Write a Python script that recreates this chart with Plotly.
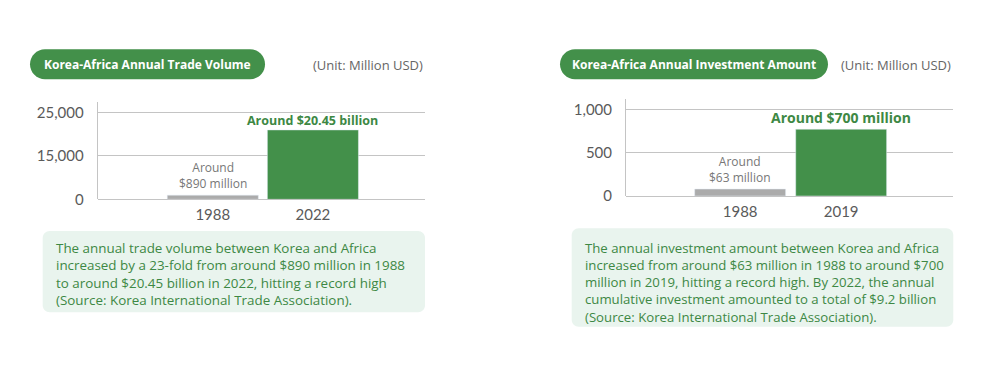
import plotly.graph_objects as go

# ---------------- data ----------------
trade_years = ["1988", "2022"]
trade_values = [1200, 20000]          # Million USD (as drawn)
trade_tick_vals = [0, 12500, 25000]
trade_tick_text = ["0", "15,000", "25,000"]

invest_years = ["1988", "2019"]
invest_values = [80, 770]             # Million USD (as drawn)
invest_tick_vals = [0, 500, 1000]
invest_tick_text = ["0", "500", "1,000"]

trade_title = "Korea-Africa Annual Trade Volume"
invest_title = "Korea-Africa Annual Investment Amount"
unit_text = "(Unit: Million USD)"

trade_bar_labels = [["Around", "$890 million"], ["Around $20.45 billion"]]
invest_bar_labels = [["Around", "$63 million"], ["Around $700 million"]]

trade_note = [
    "The annual trade volume between Korea and Africa",
    "increased by a 23-fold from around $890 million in 1988",
    "to around $20.45 billion in 2022, hitting a record high",
    "(Source: Korea International Trade Association).",
]
invest_note = [
    "The annual investment amount between Korea and Africa",
    "increased from around $63 million in 1988 to around $700",
    "million in 2019, hitting a record high. By 2022, the annual",
    "cumulative investment amounted to a total of $9.2 billion",
    "(Source: Korea International Trade Association).",
]

# ---------------- style ----------------
W, H = 1000, 372
GREEN = "#43904a"
TEXT_GREEN = "#3d8844"
GRAY_BAR = "#ababab"
GRID = "#c4c4c4"
TICK = "#5a5a5a"
BOX_BG = "#e9f4ee"
FONT = "Open Sans"
TICKFONT = "Lato"


def px(x):
    return x / W


def py(y):
    return 1 - y / H


def rrect(x0, y0, x1, y1, r):
    k = 0.5523 * r
    def P(x, y):
        return f"{px(x):.5f},{py(y):.5f}"
    return (f"M{P(x0 + r, y0)} L{P(x1 - r, y0)} "
            f"C{P(x1 - r + k, y0)} {P(x1, y0 + r - k)} {P(x1, y0 + r)} "
            f"L{P(x1, y1 - r)} "
            f"C{P(x1, y1 - r + k)} {P(x1 - r + k, y1)} {P(x1 - r, y1)} "
            f"L{P(x0 + r, y1)} "
            f"C{P(x0 + r - k, y1)} {P(x0, y1 - r + k)} {P(x0, y1 - r)} "
            f"L{P(x0, y0 + r)} "
            f"C{P(x0, y0 + r - k)} {P(x0 + r - k, y0)} {P(x0 + r, y0)} Z")


fig = go.Figure()

fig.add_trace(go.Bar(
    x=trade_years, y=trade_values, marker_color=[GRAY_BAR, GREEN],
    xaxis="x", yaxis="y", width=0.91, hoverinfo="skip", showlegend=False))
fig.add_trace(go.Bar(
    x=invest_years, y=invest_values, marker_color=[GRAY_BAR, GREEN],
    xaxis="x2", yaxis="y2", width=0.9, hoverinfo="skip", showlegend=False))

xcommon = dict(type="category", showgrid=False, showline=False, zeroline=False,
               tickfont=dict(family=TICKFONT, size=15, color=TICK),
               ticks="", fixedrange=True, ticklabelstandoff=5, automargin=False)
ycommon = dict(showgrid=True, gridcolor=GRID, gridwidth=1,
               showline=True, linecolor=GRID, linewidth=1,
               zeroline=True, zerolinecolor=GRID, zerolinewidth=1,
               tickfont=dict(family=TICKFONT, size=15, color=TICK),
               ticks="", ticklabelstandoff=10, fixedrange=True, automargin=False)

fig.update_layout(
    width=W, height=H, autosize=False,
    margin=dict(l=0, r=0, t=0, b=0, pad=0),
    paper_bgcolor="white", plot_bgcolor="white",
    font=dict(family=FONT),
    xaxis=dict(**xcommon, domain=[px(97.7), px(425)], anchor="y", range=[-1.15, 2.12]),
    yaxis=dict(**ycommon, domain=[py(199.3), py(101.7)], anchor="x", range=[0, 28140],
               tickvals=trade_tick_vals, ticktext=trade_tick_text),
    xaxis2=dict(**xcommon, domain=[px(626), px(953.3)], anchor="y2", range=[-1.13, 2.11]),
    yaxis2=dict(**ycommon, domain=[py(196), py(99.3)], anchor="x2", range=[0, 1115],
                tickvals=invest_tick_vals, ticktext=invest_tick_text),
    bargap=0.09,
)

shapes = []
annos = []

# title pills + unit
for (x0, x1, title, unit_x) in [(30, 265, trade_title, 425), (560, 828, invest_title, 953)]:
    shapes.append(dict(type="path", path=rrect(x0, 49.3, x1, 79.3, 15), xref="paper", yref="paper",
                       fillcolor=GREEN, line=dict(width=0), layer="below"))
    annos.append(dict(x=px((x0 + x1) / 2), y=py(64.5), xref="paper", yref="paper", text=f"<b>{title}</b>",
                      showarrow=False, xanchor="center", yanchor="middle",
                      font=dict(family=FONT, size=12, color="white")))
    annos.append(dict(x=px(unit_x), y=py(65), xref="paper", yref="paper", text=unit_text,
                      showarrow=False, xanchor="right", yanchor="middle",
                      font=dict(family=FONT, size=13, color="#666666")))

# note boxes
for (x0, y0, x1, y1, lines, tx, ty, fs) in [(42.7, 231, 425, 312.3, trade_note, 54, 237, 13.4),
                                            (571.7, 228.3, 953.3, 326.7, invest_note, 582.7, 236.5, 13.2)]:
    shapes.append(dict(type="path", path=rrect(x0, y0, x1, y1, 7), xref="paper", yref="paper",
                       fillcolor=BOX_BG, line=dict(width=0), layer="below"))
    annos.append(dict(x=px(tx), y=py(ty), xref="paper", yref="paper", text="<br>".join(lines),
                      showarrow=False, xanchor="left", yanchor="top", align="left",
                      font=dict(family=FONT, size=fs, color=TEXT_GREEN)))

# bar labels (x as category index)
def bar_labels(xref, yref, values, labels, big_size, big_shift):
    out = []
    out.append(dict(x=0, y=values[0], xref=xref, yref=yref, text="<br>".join(labels[0]),
                    showarrow=False, yanchor="bottom", yshift=1,
                    font=dict(family=FONT, size=12, color="#777777")))
    out.append(dict(x=1, y=values[1], xref=xref, yref=yref, text=f"<b>{labels[1][0]}</b>",
                    showarrow=False, yanchor="bottom", yshift=big_shift,
                    font=dict(family=FONT, size=big_size, color=TEXT_GREEN)))
    return out

annos += bar_labels("x", "y", trade_values, trade_bar_labels, 12.5, -1)
annos += bar_labels("x2", "y2", invest_values, invest_bar_labels, 14, 0)

fig.update_layout(shapes=shapes, annotations=annos)
fig.write_html("out.html", config={"displayModeBar": False},
               post_script="document.body.style.margin='0';document.body.style.overflow='hidden';")
